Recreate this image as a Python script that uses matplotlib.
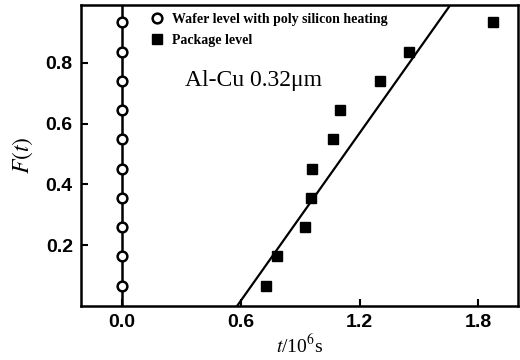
import matplotlib
matplotlib.use("Agg")
import matplotlib.pyplot as plt
import numpy as np

plt.rcParams["mathtext.fontset"] = "stix"

# Data
wafer_t = [0.0] * 10
wafer_F = [0.067, 0.163, 0.260, 0.356, 0.452, 0.548, 0.644, 0.740, 0.837, 0.933]
package_t = [0.728, 0.784, 0.925, 0.955, 0.960, 1.067, 1.102, 1.304, 1.451, 1.876]
package_F = [0.067, 0.163, 0.260, 0.356, 0.452, 0.548, 0.644, 0.740, 0.837, 0.933]
fit_slope = 0.919
fit_t0 = 0.581
xticks = [0.0, 0.6, 1.2, 1.8]
yticks = [0.2, 0.4, 0.6, 0.8]

fig = plt.figure(figsize=(5.2, 3.6), dpi=100)
ax = fig.add_axes([0.156, 0.150, 0.840, 0.836])
ax.set_xlim(-0.207, 2.0)
ax.set_ylim(0.0, 0.99)

ax.axvline(0.0, color="black", lw=1.8, zorder=2)
ft = np.array([fit_t0, 2.0])
ax.plot(ft, fit_slope * (ft - fit_t0), color="black", lw=1.6, zorder=2)

ax.plot(wafer_t, wafer_F, "o", ms=7, mfc="white", mec="black", mew=1.8,
        ls="none", zorder=3, label="Wafer level with poly silicon heating")
ax.plot(package_t, package_F, "s", ms=7, mfc="black", mec="black",
        ls="none", zorder=3, label="Package level")

leg = ax.legend(loc="upper left", bbox_to_anchor=(0.158, 0.975), frameon=False,
                prop={"family": "Liberation Serif", "size": 10, "weight": "bold"},
                handletextpad=0.55, handlelength=1.0, labelspacing=0.6,
                borderaxespad=0.0, borderpad=0.0)

ax.text(0.394, 0.75, "Al-Cu 0.32μm", transform=ax.transAxes, fontsize=17,
        family="Liberation Serif", ha="center", va="center")

ax.set_xticks(xticks)
ax.set_xticklabels([f"{v:.1f}" for v in xticks])
ax.set_yticks(yticks)
ax.set_yticklabels([f"{v:.1f}" for v in yticks])
ax.tick_params(direction="in", length=5, width=1.5, labelsize=14, pad=6)
for lab in ax.get_xticklabels() + ax.get_yticklabels():
    lab.set_family("Liberation Sans")
    lab.set_fontweight("bold")

for s in ax.spines.values():
    s.set_linewidth(1.8)

ax.set_xlabel(r"$t$/10$^6$s", fontsize=14, family="Liberation Serif", labelpad=2)
ax.set_ylabel(r"$F(t)$", fontsize=17, labelpad=8)

fig.savefig("out.png", dpi=100)
